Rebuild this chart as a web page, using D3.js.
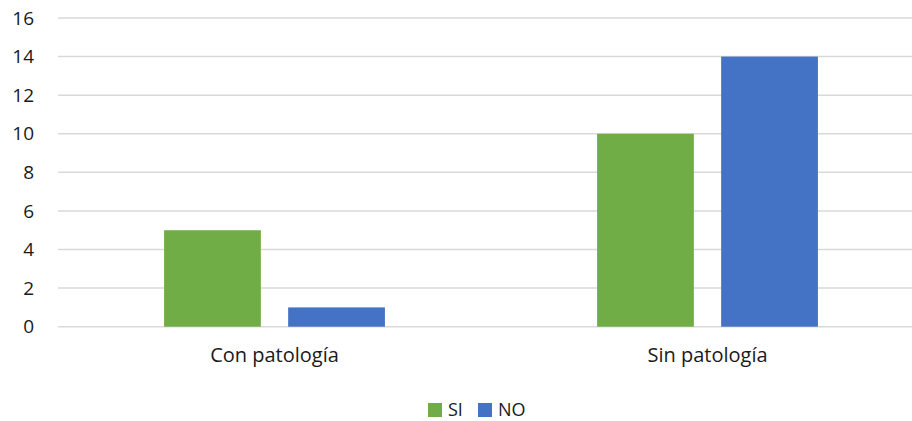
<!DOCTYPE html>
<html>
<head>
<meta charset="utf-8">
<script src="https://cdn.jsdelivr.net/npm/d3@7"></script>
<style>
  body { margin: 0; background: #fff; }
  text { font-family: "Open Sans", sans-serif; fill: #1a1a1a; }
</style>
</head>
<body>
<div id="chart"></div>
<script>
// Data
const categories = ["Con patología", "Sin patología"];
const seriesNames = ["SI", "NO"];
const siValues = [5, 10];
const noValues = [1, 14];
const yTicks = [0, 2, 4, 6, 8, 10, 12, 14, 16];
const colors = ["#70AD47", "#4472C4"];

const width = 912, height = 421;
const margin = { top: 18, left: 58, bottom: 94 };
const plotRight = 924; // plot runs past the picture edge

const svg = d3.select("#chart").append("svg")
  .attr("width", width)
  .attr("height", height);

// Scales
const x0 = d3.scaleBand()
  .domain(categories)
  .range([margin.left, plotRight])
  .padding(0);

const x1 = d3.scaleBand()
  .domain(seriesNames)
  .range([x0.bandwidth() * 0.245, x0.bandwidth() * 0.755])
  .paddingInner(0.22);

const y = d3.scaleLinear()
  .domain([0, 16])
  .range([height - margin.bottom - 0.3, margin.top]);

// Gridlines
svg.append("g")
  .selectAll("line")
  .data(yTicks)
  .join("line")
  .attr("x1", margin.left)
  .attr("x2", plotRight)
  .attr("y1", d => y(d))
  .attr("y2", d => y(d))
  .attr("stroke", "#d9d9d9")
  .attr("stroke-width", 1.5);

// Y axis labels
const yAxis = d3.axisLeft(y).tickValues(yTicks).tickSize(0).tickPadding(0);
const yg = svg.append("g")
  .attr("transform", "translate(34,0)")
  .call(yAxis);
yg.select(".domain").remove();
yg.selectAll("text")
  .style("font-family", "'Open Sans', sans-serif")
  .style("font-size", "19px")
  .attr("fill", "#1a1a1a");

// Bars
const rows = categories.map((c, i) => ({ cat: c, values: [siValues[i], noValues[i]] }));

const groups = svg.append("g")
  .selectAll("g")
  .data(rows)
  .join("g")
  .attr("transform", d => "translate(" + x0(d.cat) + ",0)");

groups.selectAll("rect")
  .data(d => d.values.map((v, j) => ({ key: seriesNames[j], value: v, color: colors[j] })))
  .join("rect")
  .attr("x", d => x1(d.key))
  .attr("width", x1.bandwidth())
  .attr("y", d => y(d.value))
  .attr("height", d => y(0) - y(d.value))
  .attr("fill", d => d.color);

// X axis labels
const xAxis = d3.axisBottom(x0).tickSize(0).tickPadding(0);
const xg = svg.append("g")
  .attr("transform", "translate(0," + 355 + ")")
  .call(xAxis);
xg.select(".domain").remove();
xg.selectAll("text")
  .attr("dy", "0.35em")
  .style("font-family", "'Open Sans', sans-serif")
  .style("font-size", "20px")
  .attr("fill", "#1a1a1a");

// Legend
const legendX = [428, 478];
const legend = svg.append("g");
seriesNames.forEach((name, i) => {
  legend.append("rect")
    .attr("x", legendX[i])
    .attr("y", 403)
    .attr("width", 14)
    .attr("height", 14)
    .attr("fill", colors[i]);
  legend.append("text")
    .attr("x", legendX[i] + 20)
    .attr("y", 416)
    .style("font-size", "18px")
    .text(name);
});
</script>
</body>
</html>
